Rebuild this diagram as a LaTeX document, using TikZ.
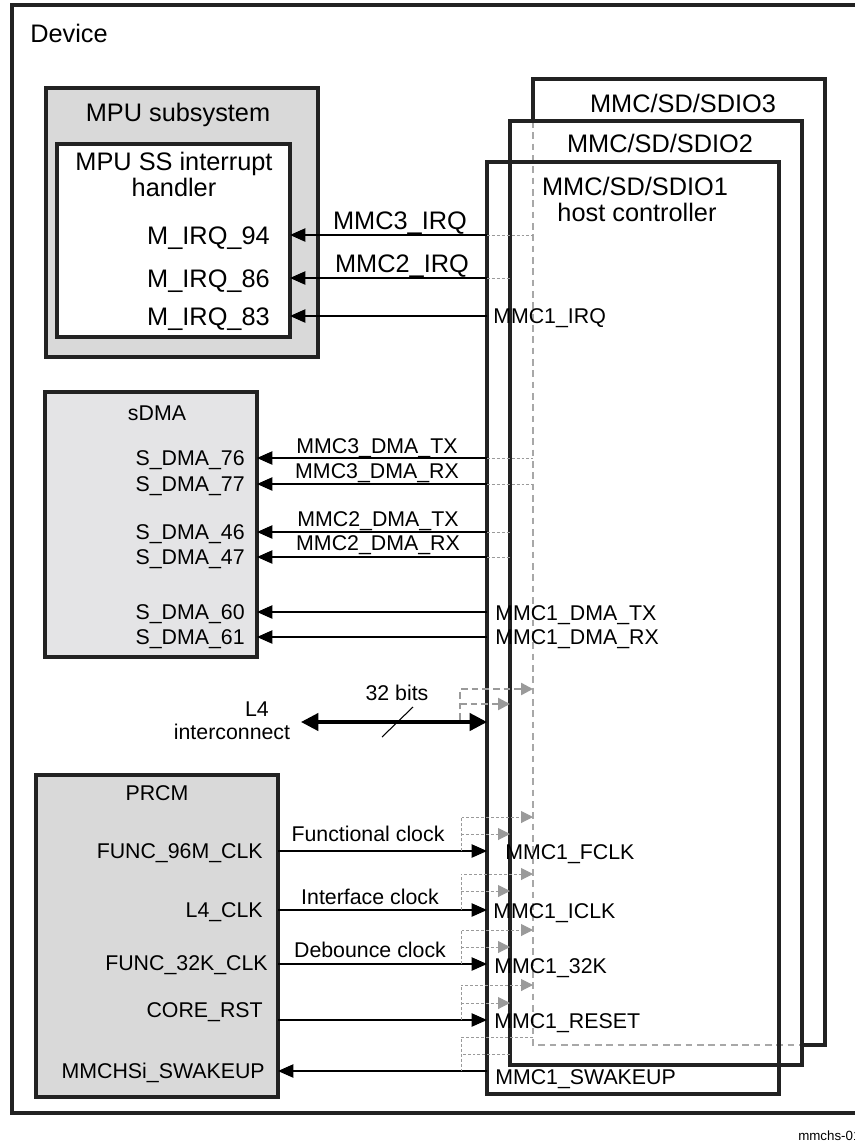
\documentclass[tikz,border=0pt]{standalone}
\usepackage{fontspec}
\setmainfont{Liberation Sans}
\usetikzlibrary{arrows.meta,fit}
\definecolor{boxgray}{HTML}{D9D9D9}
\definecolor{dmagray}{HTML}{E4E4E6}
\definecolor{hidgray}{HTML}{A8A8A8}
\definecolor{stubgray}{HTML}{9A9A9A}
\definecolor{edgecol}{HTML}{222222}
\begin{document}
\begin{tikzpicture}[x=0.75pt,y=-0.75pt,
  small/.style={inner sep=0pt, text height=11.5pt, text depth=0pt, font=\fontsize{16}{19}\selectfont},
  big/.style={inner sep=0pt, text height=13.7pt, text depth=0pt, font=\fontsize{19}{23}\selectfont},
  blk/.style={draw=edgecol, line width=2.6pt, inner sep=0pt, outer sep=0pt},
  sig/.style={line width=0.85pt, -{Triangle[length=11.5pt,width=10pt]}},
  stub/.style={draw=stubgray, line width=0.75pt, dash pattern=on 2.2pt off 1.5pt},
  stubarr/.style={stub, -{Triangle[length=9pt,width=9pt]}},
  hidden/.style={draw=hidgray, line width=1pt, dash pattern=on 5pt off 3.5pt},
  lfourstub/.style={draw=stubgray, line width=1.8pt, dash pattern=on 5pt off 3pt, -{Triangle[length=9pt,width=9pt]}},
  edgeline/.style={draw=edgecol, line width=2.6pt}
]
\useasboundingbox (0,0) rectangle (854,1143);

% Device frame
\node[blk, line width=2.8pt, fit={(12,5) (900,1113)}] (device) {};
\node[big, anchor=west] (devlbl) at (30,33) {Device};
\node[inner sep=0pt, anchor=west, font=\fontsize{10}{12}\selectfont] (figid) at (798,1136) {mmchs-01};

% MPU subsystem
\node[blk, fill=boxgray, fit={(46,88) (318,357)}] (mpu) {};
\node[big] (mputitle) at (178,112) {MPU subsystem};
\node[blk, fill=white, fit={(57,144) (290,337)}] (ih) {};
\node[big] (iha) at (174,161) {MPU SS interrupt};
\node[big] (ihb) at (174,187) {handler};
\node[big, anchor=east] (m94) at (270,235) {M\_IRQ\_94};
\node[big, anchor=east] (m86) at (270,278) {M\_IRQ\_86};
\node[big, anchor=east] (m83) at (270,316) {M\_IRQ\_83};

% sDMA
\node[blk, fill=dmagray, fit={(45,392) (257,657)}] (sdma) {};
\node[small] (sdmatitle) at (157,413) {sDMA};
\node[small, anchor=east] (s76) at (245,458) {S\_DMA\_76};
\node[small, anchor=east] (s77) at (245,484) {S\_DMA\_77};
\node[small, anchor=east] (s46) at (245,532) {S\_DMA\_46};
\node[small, anchor=east] (s47) at (245,557) {S\_DMA\_47};
\node[small, anchor=east] (s60) at (245,612) {S\_DMA\_60};
\node[small, anchor=east] (s61) at (245,637) {S\_DMA\_61};

% PRCM
\node[blk, fill=boxgray, fit={(36,775) (278,1097)}] (prcm) {};
\node[small] (prcmtitle) at (157,793) {PRCM};
\node[small, anchor=east] (f96) at (263,851) {FUNC\_96M\_CLK};
\node[small, anchor=east] (l4clk) at (263,910) {L4\_CLK};
\node[small, anchor=east] (f32) at (268,963) {FUNC\_32K\_CLK};
\node[small, anchor=east] (crst) at (263,1010) {CORE\_RST};
\node[small, anchor=east] (swk) at (265,1071) {MMCHSi\_SWAKEUP};

% MMC host controllers (stacked)
\node[blk, fill=white, fit={(533,79) (825,1045)}] (mmc3) {};
\node[blk, fill=white, fit={(510,121) (802,1065)}] (mmc2) {};
\node[blk, fill=white, fit={(487,162) (779,1094)}] (mmc1) {};
\draw[hidden] (mmc3.west |- mmc2.north) -- (mmc3.south west) -- (mmc3.south -| mmc2.east);
\draw[hidden] (mmc2.west |- mmc1.north) -- (mmc2.south west) -- (mmc2.south -| mmc1.east);
\draw[edgeline] (mmc2.south west) rectangle (mmc2.north east);
\draw[edgeline] (mmc1.south west) rectangle (mmc1.north east);
\node[big] (t3) at (683,103) {MMC/SD/SDIO3};
\node[big] (t2) at (660,143) {MMC/SD/SDIO2};
\node[big] (t1a) at (635,186) {MMC/SD/SDIO1};
\node[big] (t1b) at (637,212) {host controller};

% IRQ lines
\draw[sig] (mmc1.west |- m94) -- (ih.east |- m94);
\draw[stub] (mmc1.west |- m94) -- (mmc3.west |- m94);
\draw[sig] (mmc1.west |- m86) -- (ih.east |- m86);
\draw[stub] (mmc1.west |- m86) -- (mmc2.west |- m86);
\draw[sig] (mmc1.west |- m83) -- (ih.east |- m83);
\node[big] (irq3) at (400,220) {MMC3\_IRQ};
\node[big] (irq2) at (402,263) {MMC2\_IRQ};
\node[small, anchor=west] (irq1) at (493,316) {MMC1\_IRQ};

% DMA lines
\draw[sig] (mmc1.west |- s76) -- (sdma.east |- s76);
\draw[stub] (mmc1.west |- s76) -- (mmc3.west |- s76);
\draw[sig] (mmc1.west |- s77) -- (sdma.east |- s77);
\draw[stub] (mmc1.west |- s77) -- (mmc3.west |- s77);
\draw[sig] (mmc1.west |- s46) -- (sdma.east |- s46);
\draw[stub] (mmc1.west |- s46) -- (mmc2.west |- s46);
\draw[sig] (mmc1.west |- s47) -- (sdma.east |- s47);
\draw[stub] (mmc1.west |- s47) -- (mmc2.west |- s47);
\draw[sig] (mmc1.west |- s60) -- (sdma.east |- s60);
\draw[sig] (mmc1.west |- s61) -- (sdma.east |- s61);
\node[small] (d3tx) at (377,446) {MMC3\_DMA\_TX};
\node[small] (d3rx) at (377,471) {MMC3\_DMA\_RX};
\node[small] (d2tx) at (378,519) {MMC2\_DMA\_TX};
\node[small] (d2rx) at (378,543) {MMC2\_DMA\_RX};
\node[small, anchor=west] (d1tx) at (495,613) {MMC1\_DMA\_TX};
\node[small, anchor=west] (d1rx) at (495,637) {MMC1\_DMA\_RX};

% L4 interconnect
\node[small] (l4a) at (257,709) {L4};
\node[small] (l4b) at (232,732) {interconnect};
\coordinate (l4end) at (301,722);
\draw[line width=2.4pt, {Triangle[length=13pt,width=13pt]}-{Triangle[length=13pt,width=13pt]}] (l4end) -- (mmc1.west |- l4end);
\node[small] (bits) at (397,693) {32 bits};
\coordinate (sla) at (382,737);
\coordinate (slb) at (413,707);
\draw[line width=0.8pt] (sla) -- (slb);
\coordinate (l4br) at (460,720);
\coordinate (l4u) at (460,689);
\coordinate (l4m) at (460,704);
\draw[lfourstub] (l4br) -- (l4u) -- (mmc3.west |- l4u);
\draw[lfourstub] (l4m) -- (mmc2.west |- l4m);

% Functional clock
\draw[sig] (prcm.east |- f96) -- (mmc1.west |- f96);
\node[small] (fclbl) at (368,834) {Functional clock};
\node[small, anchor=west] (fclk) at (505,852) {MMC1\_FCLK};
\coordinate (fa) at (461,817);
\coordinate (fb) at (461,834);
\draw[stubarr] (fa |- f96) -- (fa) -- (mmc3.west |- fa);
\draw[stubarr] (fb) -- (mmc2.west |- fb);

% Interface clock
\draw[sig] (prcm.east |- l4clk) -- (mmc1.west |- l4clk);
\node[small] (iclbl) at (370,897) {Interface clock};
\node[small, anchor=west] (iclk) at (493,911) {MMC1\_ICLK};
\coordinate (ia) at (461,874);
\coordinate (ib) at (461,891);
\draw[stubarr] (ia |- l4clk) -- (ia) -- (mmc3.west |- ia);
\draw[stubarr] (ib) -- (mmc2.west |- ib);

% Debounce clock
\coordinate (dl) at (278,964);
\draw[sig] (prcm.east |- dl) -- (mmc1.west |- dl);
\node[small] (dclbl) at (370,950) {Debounce clock};
\node[small, anchor=west] (dclk) at (494,966) {MMC1\_32K};
\coordinate (da) at (461,930);
\coordinate (db) at (461,947);
\draw[stubarr] (da |- dl) -- (da) -- (mmc3.west |- da);
\draw[stubarr] (db) -- (mmc2.west |- db);

% Reset
\coordinate (rl) at (278,1020);
\draw[sig] (prcm.east |- rl) -- (mmc1.west |- rl);
\node[small, anchor=west] (rst) at (494,1021) {MMC1\_RESET};
\coordinate (ra) at (461,985);
\coordinate (rb) at (461,1003);
\draw[stubarr] (ra |- rl) -- (ra) -- (mmc3.west |- ra);
\draw[stubarr] (rb) -- (mmc2.west |- rb);

% Wakeup
\draw[sig] (mmc1.west |- swk) -- (prcm.east |- swk);
\node[small, anchor=west] (swkm) at (495,1077) {MMC1\_SWAKEUP};
\coordinate (wa) at (461,1037);
\coordinate (wb) at (461,1054);
\draw[stub] (mmc3.west |- wa) -- (wa) -- (wa |- swk);
\draw[stub] (mmc2.west |- wb) -- (wb);
\end{tikzpicture}
\end{document}
